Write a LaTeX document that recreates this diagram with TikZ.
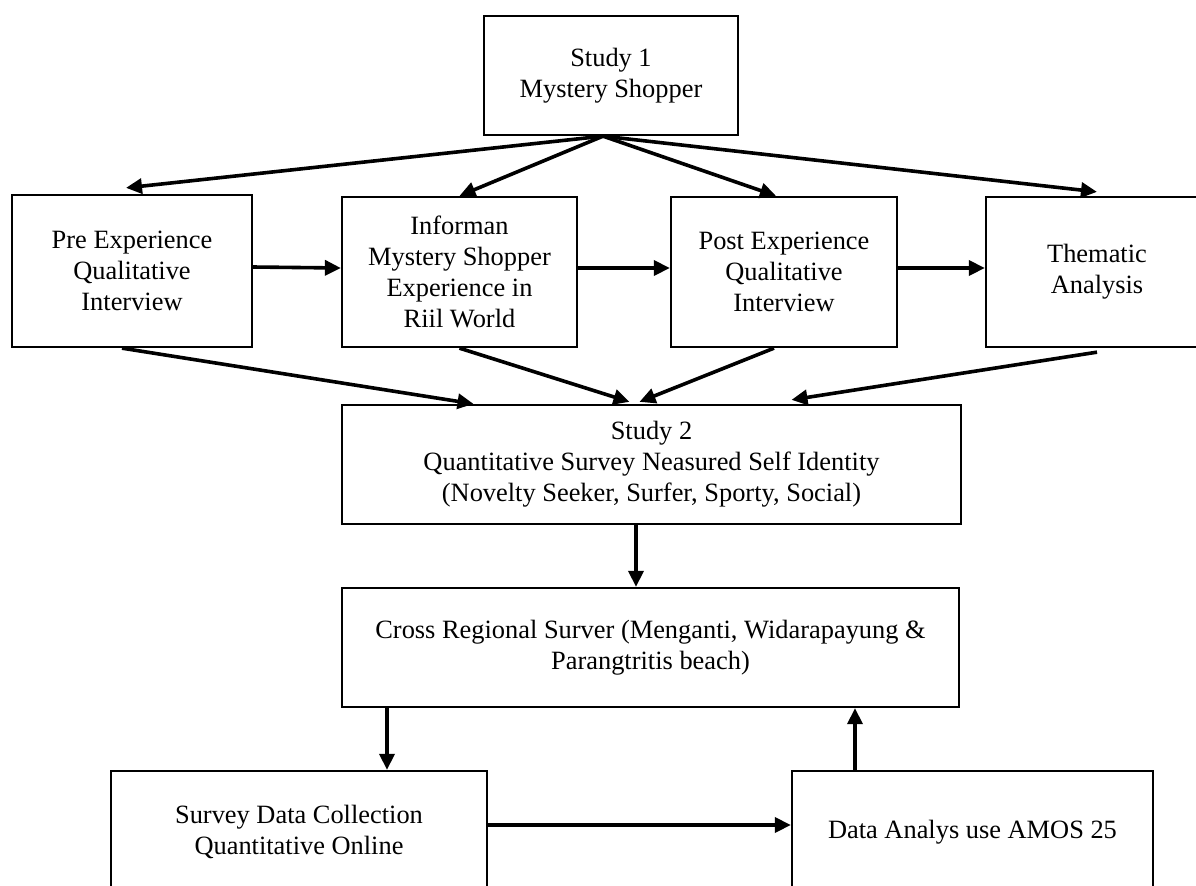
\documentclass[tikz,border=0pt]{standalone}
\usepackage{fontspec}
\setmainfont{Liberation Serif}
\usetikzlibrary{arrows.meta}
\begin{document}
\begin{tikzpicture}[x=0.5pt,y=-0.5pt,
  box/.style={draw,line width=1.15pt,align=center,inner sep=0pt,
    font=\fontsize{13.2pt}{15.5pt}\selectfont},
  arr/.style={line width=1.8pt,-{Triangle[length=8pt,width=7.5pt]}}]
\clip (0,0) rectangle (1196,885);
\fill[white] (0,0) rectangle (1196,885);
\node[box,minimum width=127pt,minimum height=59.5pt] (s1) at (611,75.5) {Study 1\\Mystery Shopper};
\node[box,minimum width=120pt,minimum height=76pt] (pre) at (132,271) {Pre Experience\\Qualitative\\Interview};
\node[box,minimum width=117.5pt,minimum height=75pt] (inf) at (459.5,272) {Informan\\Mystery Shopper\\Experience in\\Riil World};
\node[box,minimum width=113pt,minimum height=75pt] (post) at (784,272) {Post Experience\\Qualitative\\Interview};
\node[box,minimum width=111pt,minimum height=75pt] (them) at (1097,272) {Thematic\\Analysis};
\node[box,minimum width=309.5pt,minimum height=59.5pt] (s2) at (651.5,464.5) {Study 2\\Quantitative Survey Neasured Self Identity\\(Novelty Seeker, Surfer, Sporty, Social)};
\node[box,minimum width=308.5pt,minimum height=59.5pt] (cross) at (650.5,647.5) {Cross Regional Surver (Menganti, Widarapayung \&\\Parangtritis beach)};
\node[box,minimum width=188pt,minimum height=61pt] (survey) at (299,832) {Survey Data Collection\\Quantitative Online};
\node[box,minimum width=180.5pt,minimum height=61pt] (data) at (972.5,832) {Data Analys use AMOS 25};
% fan from Study 1
\draw[arr] ([xshift=-4pt]s1.south) -- ([xshift=-3pt,yshift=3pt]pre.north);
\draw[arr] ([xshift=-4pt]s1.south) -- (inf.north);
\draw[arr] ([xshift=-4pt]s1.south) -- ([xshift=-4pt]post.north);
\draw[arr] ([xshift=-4pt]s1.south) -- ([yshift=2pt]them.north);
% row arrows
\draw[arr] ([yshift=2pt]pre.east) -- ([yshift=2pt]inf.west);
\draw[arr] ([yshift=2pt]inf.east) -- ([yshift=2pt]post.west);
\draw[arr] ([yshift=2pt]post.east) -- ([yshift=2pt]them.west);
% to Study 2
\draw[arr] ([xshift=-5pt]pre.south) -- ([xshift=-89pt]s2.north);
\draw[arr] (inf.south) -- ([xshift=-11pt,yshift=1pt]s2.north);
\draw[arr] ([xshift=-5pt]post.south) -- ([xshift=-6pt,yshift=1pt]s2.north);
\draw[arr] ([yshift=-2pt]them.south) -- ([xshift=70pt,yshift=2pt]s2.north);
% vertical
\draw[arr] ([xshift=-7.75pt]s2.south) -- ([xshift=-7.75pt]s2.south |- cross.north);
\draw[arr] ([xshift=44pt]survey.north |- cross.south) -- ([xshift=44pt]survey.north);
\draw[arr] ([xshift=-58.75pt]data.north) -- ([xshift=-58.75pt]data.north |- cross.south);
\draw[arr] ([yshift=3.5pt]survey.east) -- ([yshift=3.5pt]data.west);
\end{tikzpicture}
\end{document}
